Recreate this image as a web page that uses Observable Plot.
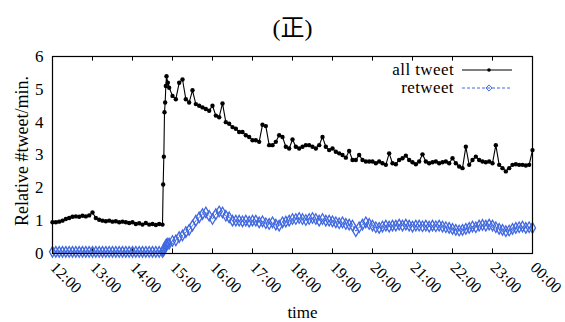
<!DOCTYPE html>
<html>
<head>
<meta charset="utf-8">
<script src="https://cdn.jsdelivr.net/npm/d3@7"></script>
<script src="https://cdn.jsdelivr.net/npm/@observablehq/plot@0.6"></script>
<style>
  html, body { margin: 0; padding: 0; background: #fff; }
  #chart svg { display: block; }
</style>
</head>
<body>
<div id="chart"></div>
<script>
// ---- data ----
const title = "(正)";
const xLabel = "time";
const yLabel = "Relative #tweet/min.";
const seriesNames = ["all tweet", "retweet"];
const hourTicks = [0, 60, 120, 180, 240, 300, 360, 420, 480, 540, 600, 660, 720]; // minutes since 12:00
const tickLabels = ["12:00","13:00","14:00","15:00","16:00","17:00","18:00","19:00","20:00","21:00","22:00","23:00","00:00"];
const yTicks = [0, 1, 2, 3, 4, 5, 6];

// values every 5 minutes from 12:00 to 00:00
const stepMinutes = 5;
const allTweet = [
  0.95,0.95,0.97,1.00,1.05,1.08,1.12,1.13,1.12,1.15,1.13,1.16,
  1.25,1.08,1.03,1.00,0.98,1.00,0.97,0.98,0.95,0.97,0.95,0.93,
  0.95,0.90,0.92,0.88,0.93,0.88,0.90,0.87,0.90,0.88,5.10,5.05,
  4.80,4.70,5.20,5.30,4.70,4.60,4.97,4.55,4.50,4.45,4.40,4.35,
  4.50,4.20,4.15,4.57,4.00,3.95,3.85,3.80,3.70,3.70,3.60,3.55,
  3.45,3.45,3.40,3.92,3.88,3.30,3.30,3.40,3.60,3.55,3.25,3.20,
  3.47,3.25,3.20,3.25,3.30,3.30,3.25,3.20,3.30,3.55,3.25,3.15,
  3.20,3.10,3.05,3.00,2.92,3.12,2.85,2.85,3.00,2.85,2.80,2.80,
  2.80,2.75,2.80,2.75,2.70,3.05,2.75,2.72,2.85,2.90,2.98,2.85,
  2.78,2.72,2.80,3.02,2.80,2.75,2.78,2.80,2.75,2.78,2.80,2.75,
  2.90,2.75,2.65,2.60,3.25,2.70,2.85,2.95,2.85,2.80,2.78,2.80,
  2.75,3.30,2.70,2.60,2.50,2.60,2.70,2.72,2.70,2.70,2.68,2.70,
  3.15
];
const retweet = [
  0.05,0.05,0.05,0.05,0.05,0.05,0.05,0.05,0.05,0.05,0.05,0.05,
  0.05,0.05,0.05,0.05,0.05,0.05,0.05,0.05,0.05,0.05,0.05,0.05,
  0.05,0.05,0.05,0.05,0.05,0.05,0.05,0.05,0.05,0.05,0.25,0.30,
  0.38,0.40,0.50,0.55,0.65,0.72,0.85,1.00,1.10,1.20,1.25,1.15,
  1.05,1.20,1.28,1.25,1.15,1.10,1.00,1.00,1.00,0.98,1.00,0.97,
  1.00,1.00,0.95,0.98,0.92,0.90,0.95,0.88,0.85,0.95,0.97,1.00,
  1.05,1.05,1.08,1.05,1.02,1.05,1.08,1.05,1.00,1.05,1.00,1.00,
  0.98,0.95,0.92,0.95,0.90,0.88,0.85,0.68,0.80,0.88,0.95,0.90,
  0.85,0.80,0.78,0.82,0.85,0.82,0.85,0.85,0.88,0.85,0.88,0.85,
  0.82,0.85,0.85,0.83,0.85,0.82,0.85,0.83,0.85,0.82,0.80,0.78,
  0.75,0.72,0.70,0.72,0.75,0.78,0.82,0.80,0.85,0.87,0.85,0.88,
  0.85,0.80,0.75,0.72,0.68,0.70,0.75,0.78,0.80,0.82,0.78,0.80,
  0.78
];
// extra one-minute samples during the sudden jump (~14:46)
const jumpMinutes = [166, 167, 168, 169, 171, 173];
const jumpAll     = [2.10, 2.95, 4.30, 4.60, 5.40, 5.20];
const jumpRetweet = [0.08, 0.10, 0.15, 0.20, 0.28, 0.30];

// ---- build table ----
const rows = allTweet.map((v, i) => ({m: i * stepMinutes, all: v, re: retweet[i]}))
  .concat(jumpMinutes.map((m, i) => ({m, all: jumpAll[i], re: jumpRetweet[i]})))
  .sort((a, b) => a.m - b.m);

const BLUE = "#4169e1";
const FONT = "'Liberation Serif', 'Noto Sans CJK JP', serif";
const W = 565, H = 322;
const mL = 52, mR = 33, mT = 56, mB = 69;

const chart = Plot.plot({
  width: W,
  height: H,
  marginLeft: mL,
  marginRight: mR,
  marginTop: mT,
  marginBottom: mB,
  style: {fontFamily: FONT, fontSize: "17px", color: "#000", background: "#fff"},
  x: {domain: [0, 720]},
  y: {domain: [0, 6]},
  marks: [
    Plot.axisY({ticks: yTicks, tickFormat: d => String(d), tickSize: 0, tickPadding: 9, label: null, fontSize: 17}),
    Plot.axisX({ticks: [], label: null}),
    // inward ticks on bottom and top edges
    Plot.ruleX(hourTicks, {x: d => d, y1: 0, y2: 0.14, stroke: "#000", strokeWidth: 1}),
    Plot.ruleX(hourTicks, {x: d => d, y1: 6 - 0.14, y2: 6, stroke: "#000", strokeWidth: 1}),
    // rotated hour labels
    Plot.text(hourTicks, {
      x: d => d, frameAnchor: "bottom", dy: 15, dx: -3,
      text: (d, i) => tickLabels[i], rotate: 45, textAnchor: "start", fontSize: 16
    }),
    // retweet
    Plot.line(rows, {x: "m", y: "re", stroke: BLUE, strokeWidth: 1, strokeDasharray: "3,2"}),
    Plot.dot(rows, {x: "m", y: "re", symbol: "diamond", r: 3.2, stroke: BLUE, strokeWidth: 1.3, fill: "none"}),
    // all tweet
    Plot.line(rows, {x: "m", y: "all", stroke: "#000", strokeWidth: 1.1}),
    Plot.dot(rows, {x: "m", y: "all", r: 2.2, fill: "#000"}),
    Plot.frame({stroke: "#000", strokeWidth: 1.2}),
    // title and axis labels
    Plot.text([title], {frameAnchor: "top", lineAnchor: "middle", dy: -28, fontSize: 24}),
    Plot.text([xLabel], {frameAnchor: "bottom", lineAnchor: "middle", dy: 59, dx: 10, fontSize: 17}),
    Plot.text([yLabel], {frameAnchor: "left", textAnchor: "middle", lineAnchor: "middle", dx: -30, dy: -4, rotate: -90, fontSize: 18, letterSpacing: "0.6px"})
  ]
});

// legend (inside the frame, top right)
const svg = d3.select(chart);
const lg = svg.append("g").attr("font-family", FONT).attr("font-size", 17).attr("letter-spacing", "0.4px");
const legendRows = [
  {name: seriesNames[0], y: 70, stroke: "#000", dash: null},
  {name: seriesNames[1], y: 88, stroke: BLUE, dash: "3,2"}
];
legendRows.forEach((r, i) => {
  lg.append("text").attr("x", 454).attr("y", r.y).attr("dy", "0.32em")
    .attr("text-anchor", "end").text(r.name);
  lg.append("line").attr("x1", 462).attr("x2", 512).attr("y1", r.y).attr("y2", r.y)
    .attr("stroke", r.stroke).attr("stroke-width", 1).attr("stroke-dasharray", r.dash);
  if (i === 0) {
    lg.append("circle").attr("cx", 489).attr("cy", r.y).attr("r", 1.8).attr("fill", "#000");
  } else {
    lg.append("path").attr("d", d3.symbol(d3.symbolDiamond2, 24)())
      .attr("transform", `translate(489,${r.y})`).attr("fill", "none")
      .attr("stroke", BLUE).attr("stroke-width", 1);
  }
});

document.getElementById("chart").appendChild(chart);
</script>
</body>
</html>
